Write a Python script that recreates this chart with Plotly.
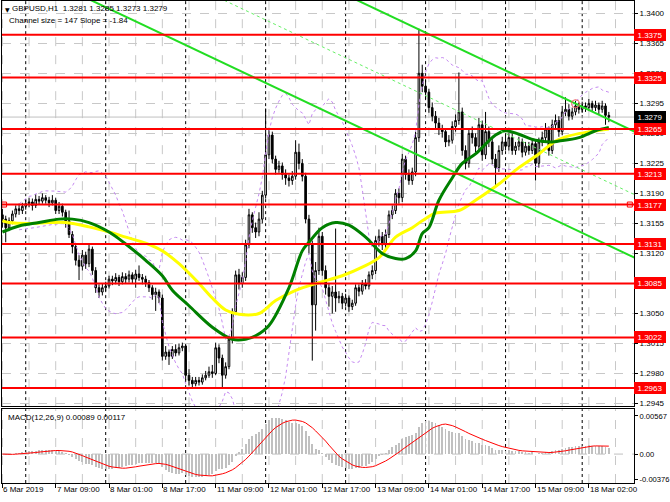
import plotly.graph_objects as go
import pandas as pd

# ---------------- data ----------------
first_open = 1.3165
closes = [
    1.3160, 1.3150, 1.3158, 1.3166, 1.3172, 1.3170, 1.3175, 1.3178, 1.3180, 1.3176,
    1.3183, 1.3181, 1.3185, 1.3182, 1.3179, 1.3182, 1.3170, 1.3175, 1.3168, 1.3158,
    1.3142, 1.3128, 1.3112, 1.3105, 1.3118, 1.3108, 1.3125, 1.3100, 1.3080, 1.3075,
    1.3080, 1.3082, 1.3090, 1.3088, 1.3092, 1.3087, 1.3093, 1.3090, 1.3095, 1.3090,
    1.3096, 1.3092, 1.3090, 1.3086, 1.3080, 1.3072, 1.3075, 1.3068, 1.3000, 1.3005,
    1.3000, 1.3008, 1.3004, 1.3010, 1.3012, 1.2978, 1.2972, 1.2968, 1.2972, 1.2970,
    1.2975, 1.2978, 1.2982, 1.2980, 1.3010, 1.2998, 1.2978, 1.2988, 1.3020, 1.3052,
    1.3095, 1.3085, 1.3092, 1.3130, 1.3165, 1.3150, 1.3145, 1.3160, 1.3188, 1.3235,
    1.3258, 1.3230, 1.3218, 1.3222, 1.3212, 1.3208, 1.3205, 1.3210, 1.3238, 1.3225,
    1.3210, 1.3160, 1.3130, 1.3060, 1.3100, 1.3140, 1.3100, 1.3080, 1.3070, 1.3075,
    1.3068, 1.3070, 1.3062, 1.3068, 1.3058, 1.3062, 1.3080, 1.3076, 1.3085, 1.3082,
    1.3095, 1.3100, 1.3135, 1.3140, 1.3130, 1.3142, 1.3165, 1.3170, 1.3190, 1.3185,
    1.3230, 1.3212, 1.3205, 1.3215, 1.3255, 1.3330, 1.3315, 1.3308, 1.3290, 1.3280,
    1.3272, 1.3265, 1.3262, 1.3250, 1.3252, 1.3268, 1.3275, 1.3285, 1.3240, 1.3225,
    1.3260, 1.3255, 1.3245, 1.3270, 1.3235, 1.3262, 1.3250, 1.3230, 1.3220, 1.3240,
    1.3250, 1.3245, 1.3255, 1.3240, 1.3245, 1.3250, 1.3238, 1.3245, 1.3240, 1.3248,
    1.3225, 1.3250, 1.3255, 1.3265, 1.3240, 1.3270, 1.3275, 1.3262, 1.3285, 1.3288,
    1.3280, 1.3285, 1.3292, 1.3288, 1.3292, 1.3290, 1.3295, 1.3290, 1.3293, 1.3288,
    1.3292, 1.3281, 1.3279,
]
highs = [
    1.3172, 1.3164, 1.3162, 1.3170, 1.3176, 1.3178, 1.3179, 1.3183, 1.3185, 1.3184,
    1.3189, 1.3187, 1.3190, 1.3188, 1.3186, 1.3188, 1.3185, 1.3180, 1.3178, 1.3171,
    1.3170, 1.3146, 1.3132, 1.3118, 1.3124, 1.3122, 1.3131, 1.3128, 1.3104, 1.3084,
    1.3085, 1.3087, 1.3094, 1.3094, 1.3097, 1.3095, 1.3098, 1.3097, 1.3100, 1.3098,
    1.3101, 1.3106, 1.3096, 1.3094, 1.3089, 1.3083, 1.3080, 1.3078, 1.3072, 1.3012,
    1.3008, 1.3012, 1.3014, 1.3015, 1.3016, 1.3013, 1.2985, 1.2976, 1.2976, 1.2976,
    1.2979, 1.2983, 1.2988, 1.2990, 1.3016, 1.3014, 1.3002, 1.2993, 1.3024, 1.3056,
    1.3100, 1.3102, 1.3098, 1.3136, 1.3172, 1.3168, 1.3156, 1.3168, 1.3193, 1.3289,
    1.3266, 1.3262, 1.3234, 1.3228, 1.3226, 1.3218, 1.3212, 1.3216, 1.3252, 1.3248,
    1.3230, 1.3214, 1.3165, 1.3135, 1.3110, 1.3150, 1.3145, 1.3106, 1.3085, 1.3082,
    1.3149, 1.3076, 1.3074, 1.3073, 1.3071, 1.3066, 1.3084, 1.3084, 1.3089, 1.3090,
    1.3099, 1.3106, 1.3140, 1.3148, 1.3145, 1.3148, 1.3170, 1.3176, 1.3195, 1.3196,
    1.3236, 1.3234, 1.3218, 1.3220, 1.3262, 1.3382, 1.3340, 1.3322, 1.3312, 1.3296,
    1.3286, 1.3278, 1.3270, 1.3266, 1.3258, 1.3274, 1.3282, 1.3331, 1.3290, 1.3246,
    1.3266, 1.3268, 1.3260, 1.3278, 1.3275, 1.3285, 1.3268, 1.3256, 1.3236, 1.3246,
    1.3256, 1.3258, 1.3260, 1.3260, 1.3250, 1.3256, 1.3254, 1.3250, 1.3250, 1.3254,
    1.3252, 1.3255, 1.3262, 1.3272, 1.3268, 1.3276, 1.3282, 1.3280, 1.3292, 1.3302,
    1.3294, 1.3290, 1.3298, 1.3296, 1.3297, 1.3296, 1.3300, 1.3298, 1.3298, 1.3296,
    1.3298, 1.3295, 1.3285,
]
lows = [
    1.3150, 1.3133, 1.3146, 1.3154, 1.3162, 1.3165, 1.3166, 1.3171, 1.3174, 1.3170,
    1.3173, 1.3177, 1.3178, 1.3178, 1.3174, 1.3176, 1.3166, 1.3166, 1.3163, 1.3150,
    1.3138, 1.3120, 1.3106, 1.3089, 1.3100, 1.3102, 1.3104, 1.3095, 1.3074, 1.3068,
    1.3071, 1.3076, 1.3079, 1.3083, 1.3084, 1.3082, 1.3084, 1.3085, 1.3086, 1.3085,
    1.3080, 1.3088, 1.3084, 1.3081, 1.3075, 1.3066, 1.3053, 1.3062, 1.2995, 1.2996,
    1.2990, 1.2997, 1.3000, 1.3001, 1.3006, 1.2972, 1.2966, 1.2964, 1.2965, 1.2966,
    1.2967, 1.2972, 1.2975, 1.2975, 1.2978, 1.2992, 1.2964, 1.2974, 1.2985, 1.3015,
    1.3048, 1.3078, 1.3080, 1.3088, 1.3126, 1.3144, 1.3138, 1.3140, 1.3155, 1.3184,
    1.3230, 1.3225, 1.3212, 1.3214, 1.3206, 1.3200, 1.3198, 1.3200, 1.3206, 1.3218,
    1.3204, 1.3155, 1.3120, 1.2995, 1.3030, 1.3095, 1.3094, 1.3072, 1.3058, 1.3050,
    1.3052, 1.3062, 1.3055, 1.3058, 1.3052, 1.3054, 1.3059, 1.3070, 1.3072, 1.3078,
    1.3078, 1.3090, 1.3096, 1.3128, 1.3124, 1.3126, 1.3138, 1.3160, 1.3166, 1.3178,
    1.3180, 1.3206, 1.3200, 1.3200, 1.3210, 1.3250, 1.3308, 1.3300, 1.3284, 1.3274,
    1.3266, 1.3258, 1.3255, 1.3244, 1.3245, 1.3248, 1.3262, 1.3270, 1.3234, 1.3218,
    1.3220, 1.3248, 1.3238, 1.3240, 1.3228, 1.3230, 1.3244, 1.3224, 1.3200, 1.3215,
    1.3235, 1.3240, 1.3240, 1.3235, 1.3235, 1.3240, 1.3232, 1.3234, 1.3235, 1.3236,
    1.3205, 1.3220, 1.3245, 1.3250, 1.3234, 1.3236, 1.3265, 1.3256, 1.3258, 1.3280,
    1.3275, 1.3276, 1.3281, 1.3283, 1.3284, 1.3285, 1.3286, 1.3285, 1.3286, 1.3282,
    1.3284, 1.3270, 1.3273,
]
opens = [first_open] + closes[:-1]
bars = list(range(len(closes)))
assert len(closes) == len(highs) == len(lows)

# moving averages (bar index, value)
green_bars = [0, 5, 11, 17, 21, 26, 32, 37, 43, 48, 51, 56, 63, 69, 73, 76, 80, 86, 90, 92,
              96, 100, 104, 109, 114, 118, 121, 124, 126, 128, 131, 135, 138, 142, 148,
              151, 155, 160, 165, 167, 173, 178, 182]
green_vals = [1.3145, 1.3152, 1.3156, 1.3160, 1.3160, 1.3156, 1.3145, 1.3131, 1.3112, 1.3094,
              1.3077, 1.3059, 1.3034, 1.3020, 1.3020, 1.3024, 1.3036, 1.3080, 1.3123, 1.3133,
              1.3150, 1.3156, 1.3153, 1.3139, 1.3120, 1.3114, 1.3114, 1.3123, 1.3143, 1.3150,
              1.3182, 1.3208, 1.3225, 1.3236, 1.3258, 1.3263, 1.3259, 1.3252, 1.3250, 1.3251,
              1.3255, 1.3263, 1.3267]
yellow_bars = [0, 2, 8, 14, 19, 26, 32, 37, 43, 48, 53, 59, 63, 67, 71, 77, 82, 88, 95, 102,
               108, 113, 118, 123, 126, 130, 137, 142, 149, 155, 161, 166, 170, 175, 182]
yellow_vals = [1.3158, 1.3156, 1.3155, 1.3156, 1.3156, 1.3151, 1.3145, 1.3139, 1.3132, 1.3123,
               1.3108, 1.3085, 1.3068, 1.3054, 1.3049, 1.3050, 1.3065, 1.3077, 1.3086, 1.3094,
               1.3104, 1.3115, 1.3139, 1.3150, 1.3158, 1.3167, 1.3170, 1.3182, 1.3201, 1.3220,
               1.3236, 1.3251, 1.3257, 1.3261, 1.3265]

# regression channel (anchor bars, upper-line values, channel width)
channel_bars = [125, 172]
channel_upper = [1.33811, 1.32946]
channel_size = 0.0147

levels = [1.3375, 1.3325, 1.3265, 1.3213, 1.3177, 1.3131, 1.3085, 1.3022, 1.2963]
level_marker_bars = [0.5, 188.3]
price_ticks = [1.3400, 1.3365, 1.3330, 1.3295, 1.3260, 1.3225, 1.3190, 1.3155,
               1.3120, 1.3085, 1.3050, 1.3015, 1.2980, 1.2945]
label_bars = [0, 16, 32, 48, 64, 80, 96, 112, 128, 144, 160, 176]
label_texts = ["6 Mar 2019", "7 Mar 09:00", "8 Mar 01:00", "8 Mar 17:00", "11 Mar 09:00",
               "12 Mar 01:00", "12 Mar 17:00", "13 Mar 09:00", "14 Mar 01:00",
               "14 Mar 17:00", "15 Mar 09:00", "18 Mar 02:00"]
separator_bars = [7, 31, 55, 79, 103, 127, 151, 174]
grid_bars = list(range(0, 190, 8))
macd_ticks = [0.00567, 0.0, -0.00376]
macd_ticktext = ["0.00567", "0.00", "-0.00376"]

title_line1 = "GBPUSD,H1  1.3281 1.3285 1.3273 1.3279"
title_line2 = "Channel size = 147 Slope = -1.84"
macd_title = "MACD(12,26,9) 0.00089 0.00117"

# ---------------- indicators ----------------
s = pd.Series(closes)
macd = s.ewm(span=12, adjust=False).mean() - s.ewm(span=26, adjust=False).mean()
signal = macd.rolling(9, min_periods=1).mean()
bb_mid = s.rolling(20, min_periods=6).mean()
bb_sd = s.rolling(20, min_periods=6).std(ddof=0)
bb_up = bb_mid + 2 * bb_sd
bb_lo = bb_mid - 2 * bb_sd

slope = (channel_upper[1] - channel_upper[0]) / (channel_bars[1] - channel_bars[0])
ch_x = [-5, 195]
ch_up = [channel_upper[0] + slope * (x - channel_bars[0]) for x in ch_x]
ch_mid = [v - channel_size / 2 for v in ch_up]
ch_lo = [v - channel_size for v in ch_up]

FONT = "Liberation Sans"
XR = [-0.12, 189.55]

fig = go.Figure()

# Bollinger bands
for band in (bb_up, bb_lo):
    fig.add_trace(go.Scatter(x=bars, y=band, mode="lines",
                             line=dict(color="#C58AF0", width=1, dash="dot"),
                             xaxis="x", yaxis="y", hoverinfo="skip"))

fig.add_trace(go.Candlestick(
    x=bars, open=opens, high=highs, low=lows, close=closes,
    increasing=dict(fillcolor="white", line=dict(color="black", width=1)),
    decreasing=dict(fillcolor="black", line=dict(color="black", width=1)),
    whiskerwidth=0, xaxis="x", yaxis="y", hoverinfo="skip"))

fig.add_trace(go.Scatter(x=yellow_bars, y=yellow_vals, mode="lines", line_shape="spline",
                         line=dict(color="#FFFF00", width=3), xaxis="x", yaxis="y"))
fig.add_trace(go.Scatter(x=green_bars, y=green_vals, mode="lines", line_shape="spline",
                         line=dict(color="#008000", width=3), xaxis="x", yaxis="y"))

# channel
fig.add_trace(go.Scatter(x=ch_x, y=ch_up, mode="lines", line=dict(color="#22DD22", width=2),
                         xaxis="x", yaxis="y"))
fig.add_trace(go.Scatter(x=ch_x, y=ch_lo, mode="lines", line=dict(color="#22DD22", width=2),
                         xaxis="x", yaxis="y"))
fig.add_trace(go.Scatter(x=ch_x, y=ch_mid, mode="lines",
                         line=dict(color="#66EE66", width=1, dash="dot"),
                         xaxis="x", yaxis="y"))
fig.add_trace(go.Scatter(x=[channel_bars[1]], y=[channel_upper[1]], mode="markers",
                         marker=dict(symbol="circle-open", size=8, color="#F06060",
                                     line=dict(width=1)),
                         xaxis="x", yaxis="y", cliponaxis=False))
fig.add_trace(go.Scatter(x=level_marker_bars, y=[levels[4]] * 2, mode="markers",
                         marker=dict(symbol="square-open", size=5, color="red",
                                     line=dict(width=1)),
                         xaxis="x", yaxis="y", cliponaxis=False))

# MACD
fig.add_trace(go.Bar(x=bars, y=macd, marker=dict(color="#C0C0C0", line=dict(width=0)),
                     width=0.55, xaxis="x2", yaxis="y2"))
fig.add_trace(go.Scatter(x=bars, y=signal, mode="lines", line=dict(color="#FF0000", width=1),
                         xaxis="x2", yaxis="y2"))

shapes = []
for b in grid_bars:
    for yr in ("y domain", "y2 domain"):
        shapes.append(dict(type="line", xref="x", yref=yr, x0=b, x1=b, y0=0, y1=1,
                           line=dict(color="#C8C8C8", width=1, dash="dash"), layer="below"))
for b in separator_bars:
    for yr in ("y domain", "y2 domain"):
        shapes.append(dict(type="line", xref="x", yref=yr, x0=b, x1=b, y0=0, y1=1,
                           line=dict(color="black", width=1, dash="dot"), layer="below"))
shapes.append(dict(type="line", xref="x domain", yref="y", x0=0, x1=1,
                   y0=closes[-1], y1=closes[-1],
                   line=dict(color="#C0C0C0", width=1), layer="below"))
shapes.append(dict(type="line", xref="x domain", yref="y2", x0=0, x1=1, y0=0, y1=0,
                   line=dict(color="#C0C0C0", width=1, dash="dash"), layer="below"))
for lv in levels:
    shapes.append(dict(type="line", xref="x domain", yref="y", x0=0, x1=1, y0=lv, y1=lv,
                       line=dict(color="#FF0000", width=2), layer="above"))

annotations = []
for lv in levels:
    annotations.append(dict(xref="paper", yref="y", x=1, y=lv, xanchor="left",
                            yanchor="middle", text=f"{lv:.4f}", showarrow=False,
                            bgcolor="#FF0000", bordercolor="#FF0000", borderpad=0,
                            width=30, height=10, align="center",
                            font=dict(family=FONT, size=8, color="white")))
annotations.append(dict(xref="paper", yref="y", x=1, y=closes[-1], xanchor="left",
                        yanchor="middle", text=f"{closes[-1]:.4f}", showarrow=False,
                        bgcolor="black", bordercolor="black", borderpad=0,
                        width=30, height=10, align="center",
                        font=dict(family=FONT, size=8, color="white")))
for b, t in zip(label_bars, label_texts):
    annotations.append(dict(xref="x", yref="paper", x=b, y=0, xanchor="left",
                            yanchor="top", yshift=0, xshift=-1, text=t, showarrow=False,
                            font=dict(family=FONT, size=8, color="black")))
annotations.append(dict(xref="paper", yref="paper", x=0, y=1, xanchor="left", yanchor="top",
                        xshift=1, yshift=-3, text="\u25bc", showarrow=False,
                        font=dict(family="DejaVu Sans", size=6, color="black")))
annotations.append(dict(xref="paper", yref="paper", x=0, y=1, xanchor="left", yanchor="top",
                        xshift=8, yshift=-1, text=title_line1, showarrow=False,
                        font=dict(family=FONT, size=8, color="black")))
annotations.append(dict(xref="paper", yref="paper", x=0, y=1, xanchor="left", yanchor="top",
                        xshift=5, yshift=-13, text=title_line2, showarrow=False,
                        font=dict(family=FONT, size=8, color="black")))
annotations.append(dict(xref="paper", yref="y2 domain", x=0, y=1, xanchor="left",
                        yanchor="top", xshift=4, yshift=-2, text=macd_title,
                        showarrow=False, font=dict(family=FONT, size=8, color="black")))

fig.update_layout(
    width=670, height=502, margin=dict(l=2, r=33, t=0, b=19),
    paper_bgcolor="white", plot_bgcolor="white", showlegend=False,
    font=dict(family=FONT, size=8, color="black"),
    bargap=0, shapes=shapes, annotations=annotations,
    xaxis=dict(domain=[0, 1], anchor="y", range=XR, showgrid=False, zeroline=False,
               showticklabels=False, ticks="", showline=True, linecolor="black",
               linewidth=1, mirror=True, rangeslider=dict(visible=False)),
    yaxis=dict(domain=[0.15942, 1], anchor="x", range=[1.294193, 1.341431], side="right",
               tickvals=price_ticks, tickformat=".4f", ticks="outside", ticklen=3,
               tickcolor="black", showgrid=True, gridcolor="#C8C8C8", griddash="dash",
               zeroline=False, showline=True, linecolor="black", mirror=True,
               tickfont=dict(family=FONT, size=8, color="black")),
    xaxis2=dict(domain=[0, 1], anchor="y2", range=XR, matches="x", showgrid=False,
                zeroline=False, tickvals=label_bars, ticks="outside", ticklen=4,
                tickcolor="black", showticklabels=False, showline=True,
                linecolor="black", mirror=True),
    yaxis2=dict(domain=[0, 0.15321], anchor="x2", range=[-0.00429, 0.00666], side="right",
                tickvals=macd_ticks, ticktext=macd_ticktext, ticks="outside", ticklen=3,
                tickcolor="black", showgrid=False, zeroline=False, showline=True,
                linecolor="black", mirror=True,
                tickfont=dict(family=FONT, size=7.6, color="black")),
)

fig.write_html("out.html", config={"displayModeBar": False, "staticPlot": True},
               post_script="document.body.style.margin='0';document.body.style.padding='0';")
